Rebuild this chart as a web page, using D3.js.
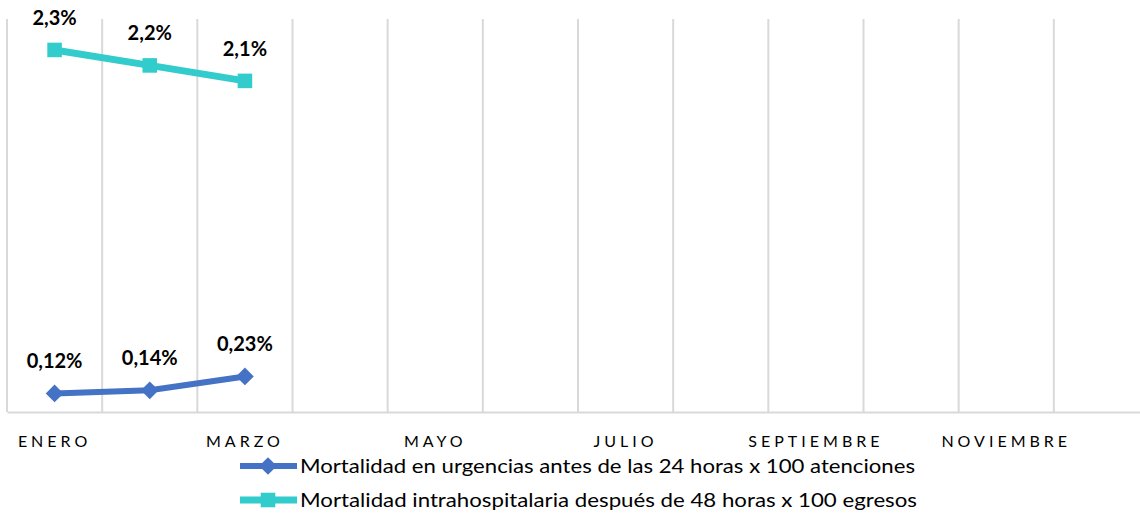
<!DOCTYPE html>
<html><head><meta charset="utf-8">
<script src="https://cdn.jsdelivr.net/npm/d3@7"></script>
<style>body{margin:0;background:#fff}svg{display:block}</style>
</head><body>
<svg id="c" width="1140" height="517"></svg>
<script>
const months = ["ENERO","FEBRERO","MARZO","ABRIL","MAYO","JUNIO","JULIO","AGOSTO","SEPTIEMBRE","OCTUBRE","NOVIEMBRE","DICIEMBRE"];
const shownTicks = ["ENERO","MARZO","MAYO","JULIO","SEPTIEMBRE","NOVIEMBRE"];
const urgencias = [0.12, 0.14, 0.23];
const urgenciasLabels = ["0,12%","0,14%","0,23%"];
const intrahosp = [2.34, 2.24, 2.14];
const intrahospLabels = ["2,3%","2,2%","2,1%"];
const seriesNames = ["Mortalidad en urgencias antes de las 24 horas x 100 atenciones","Mortalidad intrahospitalaria después de 48 horas x 100 egresos"];
const colors = ["#4472C4","#33CCCC"];

const svg = d3.select("#c");
const x = d3.scaleBand().domain(months).range([7, 1149]);
const y = d3.scaleLinear().domain([0, 2.54]).range([412, 19]);
const cx = m => x(m) + x.bandwidth()/2;

// vertical gridlines at category boundaries
svg.append("g").selectAll("line").data(months.concat(["__end"])).join("line")
  .attr("x1", (d,i) => x.range()[0] + i*x.step()).attr("x2", (d,i) => x.range()[0] + i*x.step())
  .attr("y1", y.range()[1]).attr("y2", y.range()[0])
  .attr("stroke", "#D9D9D9").attr("stroke-width", 2);

// x axis
const xAxis = svg.append("g").attr("transform", `translate(0,${y(0)})`)
  .call(d3.axisBottom(x).tickSize(0).tickValues(shownTicks));
xAxis.select(".domain").attr("stroke", "#D9D9D9").attr("stroke-width", 2);
xAxis.selectAll("text").attr("dy", 0).attr("y", 35)
  .attr("font-family", "Lato, 'Open Sans', sans-serif").attr("font-size", 16)
  .attr("fill", "#000").attr("letter-spacing", "4px");

function drawSeries(vals, labels, color, shape, sz, lw) {
  const data = vals.map((v,i) => ({m: months[i], v, l: labels[i]}));
  svg.append("path").datum(data)
    .attr("d", d3.line().x(d => cx(d.m)).y(d => y(d.v)))
    .attr("fill","none").attr("stroke", color).attr("stroke-width", lw);
  svg.append("g").selectAll("path").data(data).join("path")
    .attr("transform", d => `translate(${cx(d.m)},${y(d.v)})`)
    .attr("d", d3.symbol().type(shape).size(sz)).attr("fill", color);
  svg.append("g").selectAll("text").data(data).join("text")
    .attr("x", d => cx(d.m)).attr("y", d => y(d.v) - 25)
    .attr("text-anchor","middle").attr("font-family","Lato, 'Open Sans', sans-serif")
    .attr("font-weight","bold").attr("font-size", 20).attr("fill","#000")
    .text(d => d.l);
}
drawSeries(urgencias, urgenciasLabels, colors[0], d3.symbolDiamond2, 200, 6);
drawSeries(intrahosp, intrahospLabels, colors[1], d3.symbolSquare2, 270, 7);

// legend
const leg = svg.append("g");
const shapes = [d3.symbolDiamond2, d3.symbolSquare2];
const sizes = [200, 270];
const lws = [6, 7];
const legWidths = [615, 617];
seriesNames.forEach((n,i) => {
  const ly = 466 + i*34;
  leg.append("line").attr("x1", 240).attr("x2", 297).attr("y1", ly).attr("y2", ly)
    .attr("stroke", colors[i]).attr("stroke-width", lws[i]);
  leg.append("path").attr("transform", `translate(268,${ly})`)
    .attr("d", d3.symbol().type(shapes[i]).size(sizes[i])).attr("fill", colors[i]);
  leg.append("text").attr("x", 300).attr("y", ly + 7)
    .attr("font-family","Lato, 'Open Sans', sans-serif").attr("font-size", 20).attr("fill","#000")
    .attr("textLength", legWidths[i]).attr("lengthAdjust", "spacingAndGlyphs")
    .text(n);
});
</script>
</body></html>
